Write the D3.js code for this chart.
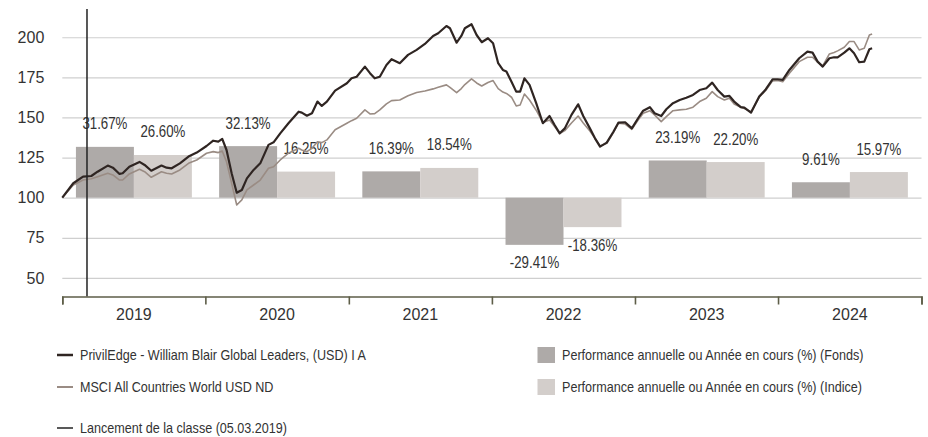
<!DOCTYPE html>
<html lang="fr">
<head>
  <meta charset="UTF-8" />
  <title>Performance</title>
  <style>
    body {
      margin: 0;
      padding: 0;
      background: #fff;
      font-family: "Liberation Sans", Arial, sans-serif;
    }
    svg text {
      fill: #333;
    }
  </style>
</head>
<body>
<svg id="chart" width="928" height="437"></svg>

<script src="https://d3js.org/d3.v7.min.js"></script>
<script>
  // annual performance bars (base 100)
  const years = ["2019", "2020", "2021", "2022", "2023", "2024"];
  const fundPerf = [31.67, 32.13, 16.39, -29.41, 23.19, 9.61];
  const indexPerf = [26.60, 16.25, 18.54, -18.36, 22.20, 15.97];
  const yTicks = [50, 75, 100, 125, 150, 175, 200];

  // rebased lines
  const dates = [
    "2019-01-01", "2019-01-29", "2019-02-23", "2019-03-16", "2019-04-01", "2019-04-27", "2019-05-10",
    "2019-05-27", "2019-06-04", "2019-06-21", "2019-07-17", "2019-07-30", "2019-08-16", "2019-09-11",
    "2019-09-24", "2019-10-07", "2019-10-28", "2019-11-19", "2019-12-10",
    "2020-01-04", "2020-01-21", "2020-02-03", "2020-02-13", "2020-02-24", "2020-03-08", "2020-03-21",
    "2020-04-03", "2020-04-16", "2020-05-03", "2020-05-20", "2020-06-10", "2020-06-23", "2020-07-10",
    "2020-07-31", "2020-08-26", "2020-09-03", "2020-09-16", "2020-09-29", "2020-10-13", "2020-10-24",
    "2020-11-06", "2020-11-27", "2020-12-27",
    "2021-01-08", "2021-01-21", "2021-02-11", "2021-02-24", "2021-03-08", "2021-03-21", "2021-04-07",
    "2021-04-20", "2021-05-11", "2021-06-01", "2021-06-23", "2021-07-14", "2021-08-04", "2021-08-17",
    "2021-09-07", "2021-09-16", "2021-10-03", "2021-10-15", "2021-10-24", "2021-11-10", "2021-11-23",
    "2021-12-06", "2021-12-22",
    "2022-01-04", "2022-01-17", "2022-01-29", "2022-02-07", "2022-02-20", "2022-03-04", "2022-03-14",
    "2022-03-25", "2022-04-07", "2022-04-24", "2022-05-11", "2022-05-28", "2022-06-10", "2022-06-23",
    "2022-07-06", "2022-07-23", "2022-08-09", "2022-08-22", "2022-09-08", "2022-09-21", "2022-10-04",
    "2022-10-21", "2022-11-07", "2022-11-20", "2022-12-07", "2022-12-24",
    "2023-01-09", "2023-01-22", "2023-02-08", "2023-02-20", "2023-03-09", "2023-03-22", "2023-04-08",
    "2023-04-25", "2023-05-12", "2023-05-29", "2023-06-15", "2023-07-02", "2023-07-17", "2023-07-31",
    "2023-08-17", "2023-08-30", "2023-09-11", "2023-09-28", "2023-10-07", "2023-10-24", "2023-11-14",
    "2023-12-01", "2023-12-18", "2023-12-31",
    "2024-01-13", "2024-01-30", "2024-02-24", "2024-03-16", "2024-03-29", "2024-04-11", "2024-04-24",
    "2024-05-11", "2024-05-23", "2024-06-01", "2024-06-18", "2024-07-01", "2024-07-13", "2024-07-26",
    "2024-08-08", "2024-08-21", "2024-08-28"
  ];
  const fundValues = [
    100, 109, 113.1, 113.5, 116.2, 120, 118.7, 114.8, 115.2, 119.3, 122.3, 120.4, 116.8, 120,
    118.7, 118.3, 121.4, 125.6, 128.1,
    132.2, 135.5, 134.9, 136.6, 129.7, 115.2, 103.1, 104.8, 112, 117.3, 121.4, 132.9, 134.5, 140.1,
    146.4, 153.6, 153, 151.1, 152.6, 159.9, 157.2, 159.9, 166.7, 171.3,
    174.4, 175.4, 181.7, 177.6, 174.4, 175.4, 182.7, 186.3, 183.8, 189, 192.1, 195.8, 200.8, 202.5,
    207, 205.6, 196.6, 200.8, 205.6, 208.1, 201.4, 196.9, 199.4,
    196.3, 183.8, 179.6, 178.6, 172.3, 166.1, 166.1, 174.4, 170.3, 158.9, 146.4, 150.9, 145.3, 140.1,
    143.2, 151.6, 158.2, 150.9, 143.2, 137, 131.8, 134.3, 141.1, 146.8, 147, 143.2,
    149.5, 154.2, 156.4, 152.6, 150.9, 155.1, 158.9, 160.9, 162.3, 164, 167.1, 168.2, 171.7, 167.1,
    163, 163.4, 159.9, 156.4, 156.1, 153, 163, 167.6, 173.8, 173.8,
    173.4, 179.6, 186.9, 191, 190.4, 184.8, 181.7, 186.9, 187.5, 187.5, 190.4, 193.1, 190, 184.4,
    184.8, 192.5, 193.1
  ];
  const indexValues = [
    100, 107.9, 111, 111.8, 113.1, 115.2, 114.2, 111, 111, 114.8, 117.7, 116.2, 112.7, 116.2,
    115.2, 114.8, 117.3, 121.4, 123.5,
    127.7, 128.7, 128.1, 129.1, 122.4, 109, 95.4, 98.6, 104.8, 107.9, 111, 118.3, 119.3, 123.5,
    127.7, 130.8, 129.7, 128.7, 130.8, 134.9, 134.3, 136, 142.3, 146.4,
    148, 149.5, 154.7, 152.2, 152.4, 154.7, 158.5, 160.5, 160.9, 163.5, 165.5, 166.5, 167.8, 168.8,
    170.3, 168.8, 165.5, 168, 170.5, 174, 171.5, 169.6, 171.8,
    173, 168, 165.8, 165, 162.6, 157.2, 157.8, 164.6, 160.9, 154.5, 146.8, 148.4, 144.3, 140,
    141.8, 146.5, 150.9, 146.5, 141.5, 137, 132.2, 133.9, 140.5, 146.4, 145.9, 142.6,
    148.4, 152.6, 154.2, 151.6, 147.4, 150.5, 154.2, 154.7, 155.1, 156.4, 159.9, 162, 166.1, 163,
    160.9, 162, 158.4, 156.4, 155.5, 153.6, 162.6, 167, 172.8, 173,
    172.3, 177.6, 184.8, 187.5, 187.5, 184.5, 182.1, 189.6, 190.5, 191.5, 193.8, 197.3, 197.3, 192.1,
    193.1, 201.4, 202
  ];
  const launchDate = "2019-03-05";

  const legendLines = [
    "PrivilEdge - William Blair Global Leaders, (USD) I A",
    "MSCI All Countries World USD ND",
    "Lancement de la classe (05.03.2019)"
  ];
  const legendBars = [
    "Performance annuelle ou Année en cours (%) (Fonds)",
    "Performance annuelle ou Année en cours (%) (Indice)"
  ];

  const colors = {
    fund: "#2f2522",
    index: "#9a8c84",
    fundBar: "#aeaaa8",
    indexBar: "#d3cecb",
    grid: "#cfcfcf",
    axis: "#5e5e48"
  };

  const svg = d3.select("#chart");
  const plotLeft = 62.3, plotRight = 921.5, plotTop = 9, plotBottom = 296.5;
  const parse = d3.timeParse("%Y-%m-%d");
  // the source font is a condensed face; squeeze Liberation Sans to match
  const squeezeLabel = 0.83, squeezeLegend = 0.9;

  const x = d3.scaleTime()
    .domain([new Date(2019, 0, 1), new Date(2025, 0, 1)])
    .range([plotLeft, plotRight]);
  const xBand = d3.scaleBand().domain(years).range([plotLeft, plotRight]);
  const xSub = d3.scaleBand().domain(["fund", "index"])
    .range([0, xBand.bandwidth()]).paddingOuter(0.235);
  const y = d3.scaleLinear().domain([38.4, 217.6]).range([plotBottom, plotTop]);

  // grid + y labels
  const yAxis = svg.append("g")
    .attr("transform", `translate(${plotLeft},0)`)
    .call(d3.axisLeft(y).tickValues(yTicks).tickSize(-(plotRight - plotLeft)).tickPadding(18));
  yAxis.select(".domain").remove();
  yAxis.selectAll(".tick line").attr("stroke", colors.grid).attr("stroke-width", 1.2);
  yAxis.selectAll(".tick text")
    .attr("font-size", 16).attr("font-family", "Liberation Sans, Arial, sans-serif")
    .attr("fill", "#333");

  // bars
  const barData = years.map((yr, i) => [
    { year: yr, key: "fund", v: fundPerf[i] },
    { year: yr, key: "index", v: indexPerf[i] }
  ]).flat();

  svg.append("g").selectAll("rect")
    .data(barData)
    .join("rect")
    .attr("x", d => xBand(d.year) + xSub(d.key))
    .attr("width", xSub.bandwidth())
    .attr("y", d => y(Math.max(100, 100 + d.v)))
    .attr("height", d => Math.abs(y(100 + d.v) - y(100)))
    .attr("fill", d => d.key === "fund" ? colors.fundBar : colors.indexBar);

  svg.append("g").selectAll("text")
    .data(barData)
    .join("text")
    .attr("transform", d => {
      const cx = xBand(d.year) + xSub(d.key) + xSub.bandwidth() / 2;
      const cy = d.v >= 0 ? y(100 + d.v) - 17.5 : y(100 + d.v) + 23.5;
      return `translate(${cx},${cy}) scale(${squeezeLabel},1)`;
    })
    .attr("text-anchor", "middle")
    .attr("font-size", 16)
    .text(d => d.v.toFixed(2) + "%");

  // lines
  const series = [
    { values: indexValues, color: colors.index, width: 1.6 },
    { values: fundValues, color: colors.fund, width: 2.2 }
  ];
  const line = d3.line()
    .x((d, i) => x(parse(dates[i])))
    .y(d => y(d));

  svg.append("g").selectAll("path")
    .data(series)
    .join("path")
    .attr("d", d => line(d.values))
    .attr("fill", "none")
    .attr("stroke", d => d.color)
    .attr("stroke-width", d => d.width)
    .attr("stroke-linejoin", "round");

  // launch marker
  svg.append("line")
    .attr("x1", x(parse(launchDate))).attr("x2", x(parse(launchDate)))
    .attr("y1", plotTop).attr("y2", plotBottom)
    .attr("stroke", "#222").attr("stroke-width", 1.5);

  // x axis: ticks at year boundaries, labels centred on years
  const xAxis = svg.append("g")
    .attr("transform", `translate(0,${plotBottom})`)
    .call(d3.axisBottom(x).ticks(d3.timeYear.every(1)).tickSize(8).tickFormat(""));
  xAxis.select(".domain").attr("stroke", colors.axis).attr("stroke-width", 1.6);
  xAxis.selectAll(".tick line").attr("stroke", colors.axis).attr("stroke-width", 1.6);

  const xLabels = svg.append("g")
    .attr("transform", `translate(0,${plotBottom})`)
    .call(d3.axisBottom(xBand).tickSize(0).tickPadding(12));
  xLabels.select(".domain").remove();
  xLabels.selectAll(".tick text")
    .attr("font-size", 16).attr("font-family", "Liberation Sans, Arial, sans-serif")
    .attr("fill", "#333");

  // legend
  const legRows = [355, 387, 428];
  const legStyles = [
    { color: colors.fund, width: 2.5 },
    { color: colors.index, width: 2 },
    { color: "#222", width: 1.5 }
  ];
  const legLeft = svg.append("g");
  legendLines.forEach((t, i) => {
    legLeft.append("line")
      .attr("x1", 57).attr("x2", 73)
      .attr("y1", legRows[i]).attr("y2", legRows[i])
      .attr("stroke", legStyles[i].color).attr("stroke-width", legStyles[i].width);
    legLeft.append("text")
      .attr("transform", `translate(80,${legRows[i] + 5}) scale(${squeezeLegend},1)`)
      .attr("font-size", 14)
      .text(t);
  });

  const legRight = svg.append("g");
  legendBars.forEach((t, i) => {
    const cy = legRows[i];
    legRight.append("rect")
      .attr("x", 537.5).attr("y", cy - 8)
      .attr("width", 17.5).attr("height", 16)
      .attr("fill", i === 0 ? colors.fundBar : colors.indexBar);
    legRight.append("text")
      .attr("transform", `translate(562,${cy + 5}) scale(${squeezeLegend},1)`)
      .attr("font-size", 14)
      .text(t);
  });
</script>
</body>
</html>
